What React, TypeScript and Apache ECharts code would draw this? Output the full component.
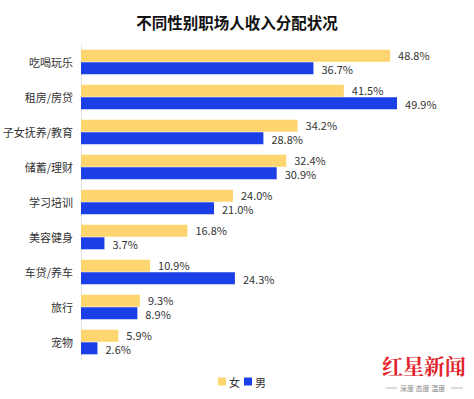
import React, { useEffect, useRef } from "react";
import * as echarts from "echarts";

const categories = ["吃喝玩乐", "租房/房贷", "子女抚养/教育", "储蓄/理财", "学习培训", "美容健身", "车贷/养车", "旅行", "宠物"];
const female = [48.8, 41.5, 34.2, 32.4, 24.0, 16.8, 10.9, 9.3, 5.9];
const male = [36.7, 49.9, 28.8, 30.9, 21.0, 3.7, 24.3, 8.9, 2.6];

const FONT = "'Noto Sans CJK SC', 'Noto Sans', sans-serif";

export default function App() {
  const ref = useRef<HTMLDivElement>(null);
  useEffect(() => {
    const chart = echarts.init(ref.current!, null, { renderer: "svg" });
    const lbl = (dy: number) => ({
      show: true,
      position: "right",
      distance: 8,
      offset: [0, dy],
      fontSize: 11,
      lineHeight: 12,
      color: "#333",
      fontFamily: FONT,
      formatter: (p: any) => Number(p.value).toFixed(1) + "%",
    });
    chart.setOption({
      animation: false,
      backgroundColor: "#fff",
      textStyle: { fontFamily: FONT },
      title: {
        text: "不同性别职场人收入分配状况",
        left: "center",
        top: 9,
        textStyle: { fontSize: 15.5, fontWeight: "bold", color: "#111", fontFamily: FONT },
      },
      legend: {
        data: ["女", "男"],
        left: 213,
        top: 371,
        icon: "rect",
        itemWidth: 8,
        itemHeight: 8,
        itemGap: 4,
        textStyle: { fontSize: 11, color: "#333", fontFamily: FONT, padding: [0, 0, 0, -2] },
      },
      grid: { left: 81, top: 44.5, width: 380, height: 315, containLabel: false, outerBoundsMode: "none" },
      xAxis: {
        type: "value",
        min: 0,
        max: 60,
        show: false,
      },
      yAxis: {
        type: "category",
        data: categories,
        inverse: true,
        axisLine: { show: true, lineStyle: { color: "#e3e3e3", width: 1 } },
        axisTick: { show: false },
        axisLabel: { fontSize: 11, color: "#333", margin: 8, fontFamily: FONT },
      },
      series: [
        {
          name: "女",
          type: "bar",
          data: female,
          barWidth: 12,
          barGap: "5%",
          itemStyle: { color: "#FFD570" },
          label: lbl(-0.5),
        },
        {
          name: "男",
          type: "bar",
          data: male,
          barWidth: 12,
          itemStyle: { color: "#1B3FE6" },
          label: lbl(0.5),
        },
      ],
      graphic: [
        {
          type: "text",
          left: 382,
          top: 354,
          style: { text: "红星新闻", fontSize: 21, fontWeight: "bold", fill: "#E3232B", fontFamily: "'Noto Serif CJK SC', 'Noto Sans CJK SC', serif" },
        },
        {
          type: "text",
          left: 400,
          top: 384,
          style: { text: "深度 态度 温度", fontSize: 7, fill: "#888", fontFamily: FONT },
        },
        { type: "line", shape: { x1: 386, y1: 388, x2: 397, y2: 388 }, style: { stroke: "#999", lineWidth: 0.7 } },
        { type: "line", shape: { x1: 451, y1: 388, x2: 463, y2: 388 }, style: { stroke: "#999", lineWidth: 0.7 } },
      ],
    });
    return () => chart.dispose();
  }, []);
  return <div ref={ref} style={{ position: "absolute", left: 0, top: 0, width: 474, height: 399 }} />;
}
